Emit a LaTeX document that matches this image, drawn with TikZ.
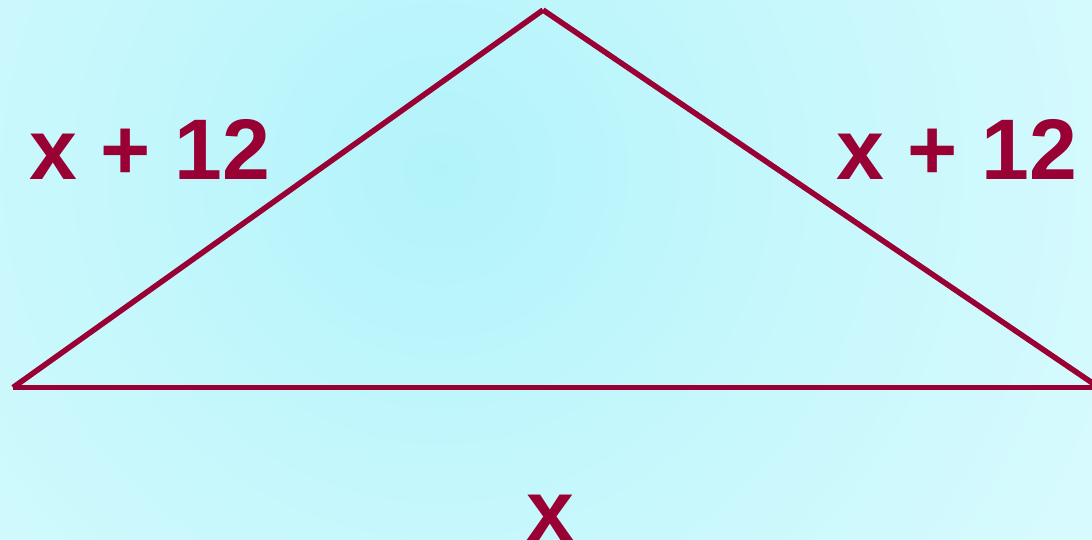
\documentclass[tikz,border=0pt]{standalone}
\usepackage{fontspec}
\setmainfont{Liberation Sans}
\definecolor{tri}{RGB}{153,0,51}
\definecolor{bgin}{RGB}{178,243,250}
\definecolor{bgmid}{RGB}{195,247,252}
\definecolor{bgout}{RGB}{214,250,253}
\pgfdeclareradialshading{bgshade}{\pgfpoint{0bp}{0bp}}{color(0bp)=(bgin); color(300bp)=(bgmid); color(700bp)=(bgout); color(850bp)=(bgout)}
\tikzset{
  side/.style={line width=5.5pt, draw=tri},
  lbl/.style={inner sep=0pt, text=tri, font=\bfseries\fontsize{86}{96}\selectfont},
}
\begin{document}
\begin{tikzpicture}[x=1pt,y=-1pt]
\useasboundingbox (0,0) rectangle (1092,540);
\clip (0,0) rectangle (1092,540);
\node[inner sep=0pt] (bg) at (440,170) {\pgfuseshading{bgshade}};
\coordinate (A) at (543,10);
\coordinate (L) at (13,387.5);
\coordinate (R) at (1099,387.5);
\coordinate (B) at (1096,387.5);
\draw[side] (L) -- (A);
\draw[side] (A) -- (R);
\draw[side] (L) -- (B);
\node[lbl, anchor=base west] (t1) at (29,180) {x + 12};
\node[lbl, anchor=base west] (t2) at (836,180) {x + 12};
\node[lbl, anchor=base] (t3) at (550,540) {x};
\end{tikzpicture}
\end{document}
